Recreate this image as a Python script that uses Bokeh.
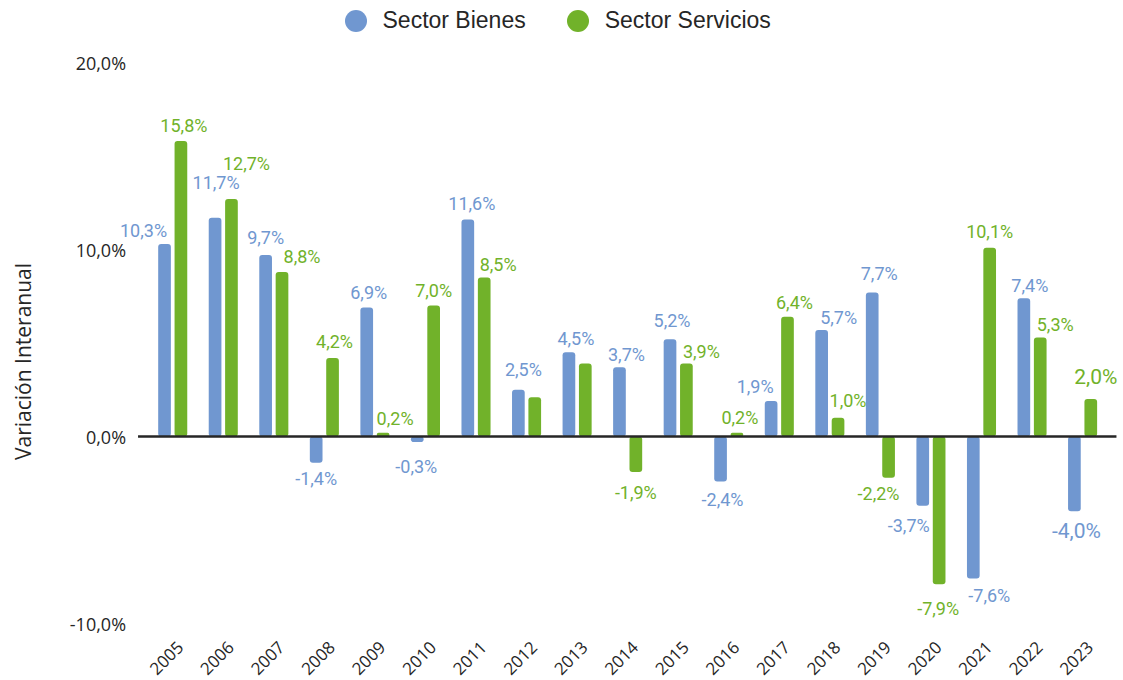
import math
import numpy as np
from bokeh.plotting import figure
from bokeh.models import (ColumnDataSource, Legend, LegendItem, FixedTicker,
                          CustomJSTickFormatter, LabelSet, Label)
from bokeh.core.properties import value
from bokeh.embed import file_html
from bokeh.resources import INLINE

# ---------------- data ----------------
years = [str(y) for y in range(2005, 2024)]
bienes = [10.3, 11.7, 9.7, -1.4, 6.9, -0.3, 11.6, 2.5, 4.5, 3.7, 5.2, -2.4, 1.9, 5.7, 7.7, -3.7, -7.6, 7.4, -4.0]
servicios = [15.8, 12.7, 8.8, 4.2, 0.2, 7.0, 8.5, 2.1, 3.9, -1.9, 3.9, 0.2, 6.4, 1.0, -2.2, -7.9, 10.1, 5.3, 2.0]
servicios_shown = [True] * 7 + [False, False] + [True] * 10
y_ticks = [-10, 0, 10, 20]

# label nudges (pixels): horizontal shift and distance from bar end
bienes_dx = [-21, 1, 0, 0, 2, -1, 4, 5, 7, 7, 2, 2, -16, 17, 7, -14, 16, 6, 2]
bienes_gap = [13, 35, 18, 16, 15, 24, 16, 20, 14, 13, 19, 18, 14, 12, 19, 20, 17, 13, 20]
servicios_dx = [3, 15, 20, 2, 12, 0, 14, 0, 0, 0, 15, 3, 7, 10, -10, -1, 0, 15, 5]
servicios_gap = [16, 36, 15, 16, 14, 15, 13, 0, 0, 20, 12, 15, 14, 17, 16, 24, 16, 13, 22]

BLUE = "#7097D0"
GREEN = "#71B22A"
DARK = "#262626"


def fmt(v):
    return f"{v:.1f}".replace(".", ",") + "%"


n = len(years)
idx = np.arange(n)
off = 0.162
bw = 0.251
zero_line_start = -0.686   # where the zero baseline / value axis begins (category units)
zero_line_end = 18.67
year_label_shift = 0.15    # year labels sit slightly right of the group centre
category_axis_y = -10.9    # value at which the year labels hang

bsrc = ColumnDataSource(dict(
    x=idx - off, top=bienes,
    label=[fmt(v) for v in bienes],
    dx=bienes_dx,
    dy=[g if v >= 0 else -g for v, g in zip(bienes, bienes_gap)],
    fs=["21px" if i == n - 1 else "18px" for i in range(n)],
))
ssrc = ColumnDataSource(dict(
    x=idx + off, top=servicios,
    label=[fmt(v) if s else "" for v, s in zip(servicios, servicios_shown)],
    dx=servicios_dx,
    dy=[g if v >= 0 else -g for v, g in zip(servicios, servicios_gap)],
    fs=["21px" if i == n - 1 else "18px" for i in range(n)],
))

p = figure(width=1123, height=680,
           x_range=(-3.407, 18.75), y_range=(-13.048, 23.316),
           output_backend="svg", toolbar_location=None,
           min_border_left=0, min_border_right=3, min_border_top=0, min_border_bottom=0)
p.outline_line_color = None
p.xgrid.visible = False
p.ygrid.visible = False
p.background_fill_color = "white"

p.vbar(x="x", top="top", bottom=0, width=bw, source=bsrc,
       fill_color=BLUE, line_color=None, border_radius=3)
p.vbar(x="x", top="top", bottom=0, width=bw, source=ssrc,
       fill_color=GREEN, line_color=None, border_radius=3)

# zero baseline
p.segment(x0=[zero_line_start], y0=[0], x1=[zero_line_end], y1=[0],
          line_color=DARK, line_width=2.5)

for src, col in ((bsrc, BLUE), (ssrc, GREEN)):
    p.add_layout(LabelSet(x="x", y="top", text="label", source=src, text_color=col,
                          text_font=value("Roboto"), text_font_size="fs",
                          text_align="center", text_baseline="middle",
                          x_offset="dx", y_offset="dy"))

# value axis, drawn where the baseline starts
yax = p.yaxis[0]
yax.fixed_location = zero_line_start
yax.ticker = FixedTicker(ticks=y_ticks)
yax.formatter = CustomJSTickFormatter(code="return tick.toFixed(1).replace('.', ',') + '%';")
yax.axis_line_color = None
yax.major_tick_line_color = None
yax.minor_tick_line_color = None
yax.major_tick_out = 0
yax.minor_tick_out = 0
yax.major_label_standoff = 12
yax.major_label_text_font = "Open Sans"
yax.major_label_text_font_size = "18px"
yax.major_label_text_color = DARK

p.add_layout(Label(x=22, y=319, x_units="screen", y_units="screen",
                   text="Variación Interanual", angle=math.pi / 2,
                   text_align="center", text_baseline="middle",
                   text_font="Open Sans", text_font_size="21px", text_color=DARK))

# category axis
xax = p.xaxis[0]
xax.fixed_location = category_axis_y
xax.ticker = FixedTicker(ticks=[i + year_label_shift for i in range(n)])
xax.formatter = CustomJSTickFormatter(args=dict(years=years, shift=year_label_shift),
                                      code="return years[Math.round(tick - shift)];")
xax.major_label_orientation = math.pi / 4
xax.axis_line_color = None
xax.major_tick_line_color = None
xax.minor_tick_line_color = None
xax.major_tick_out = 0
xax.minor_tick_out = 0
xax.major_label_standoff = 4
xax.major_label_text_font = "Open Sans"
xax.major_label_text_font_size = "17px"
xax.major_label_text_color = DARK

# legend
r1 = p.scatter(x=[np.nan], y=[np.nan], marker="circle", size=22, fill_color=BLUE, line_color=None)
r2 = p.scatter(x=[np.nan], y=[np.nan], marker="circle", size=22, fill_color=GREEN, line_color=None)
legend = Legend(items=[LegendItem(label="Sector Bienes", renderers=[r1]),
                       LegendItem(label="Sector Servicios", renderers=[r2])],
                orientation="horizontal", location=(327.5, 632.5),
                glyph_width=55, glyph_height=55, label_standoff=0, spacing=24,
                padding=0, margin=0, border_line_color=None, background_fill_alpha=0,
                label_text_font="Liberation Sans", label_text_font_size="23px",
                label_text_color=DARK)
p.add_layout(legend)

open("out.html", "w").write(file_html(p, INLINE))
